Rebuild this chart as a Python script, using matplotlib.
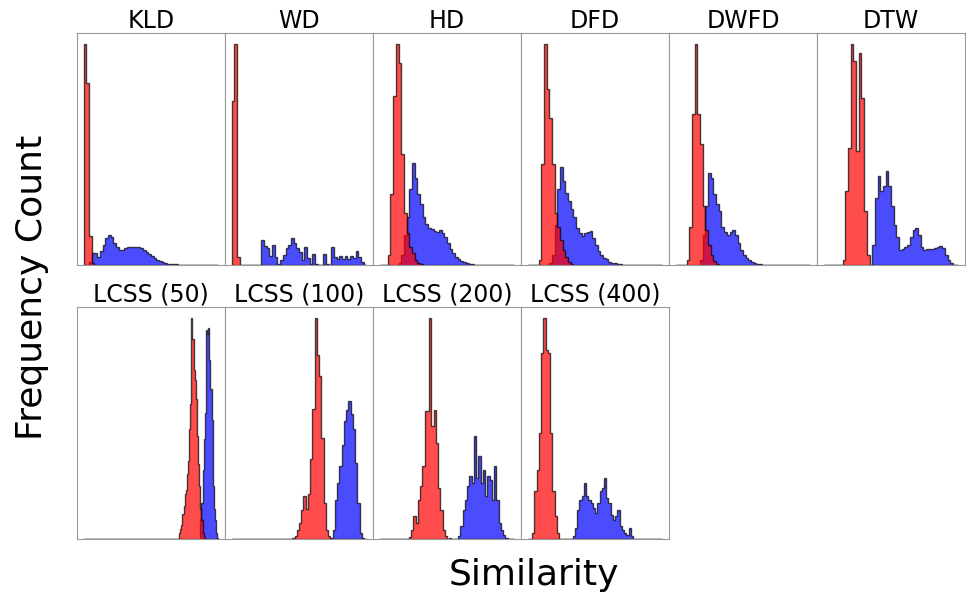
import numpy as np
import matplotlib.pyplot as plt

# ---------------- data: histogram counts per bin (bins span each panel's x range) -------------
titles = ["KLD", "WD", "HD", "DFD", "DWFD", "DTW",
          "LCSS (50)", "LCSS (100)", "LCSS (200)", "LCSS (400)"]

kld_red = [222, 183, 29, 2] + [0] * 46
kld_blue = [0, 0, 3, 12, 12, 8, 14, 20, 27, 30, 28, 22, 18, 15, 15, 17, 18, 18, 18, 18,
            18, 17, 15, 13, 11, 9, 7, 5, 4, 3, 2, 1, 1, 1, 1] + [0] * 15

wd_red = [165, 222, 8] + [0] * 47
wd_blue = [0] * 11 + [25, 19, 17, 9, 20, 8, 1, 5, 10, 17, 20, 27, 22, 17, 13, 5, 18, 7, 1, 11,
                      1, 0, 0, 11, 1, 0, 18, 8, 6, 9, 6, 9, 6, 9, 7, 14, 8, 3, 0]

hd_red = [0, 0, 0, 10, 72, 170, 222, 203, 112, 52, 32, 18, 12, 5, 2, 1] + [0] * 34
hd_blue = [0, 0, 0, 0, 0, 0, 0, 2, 10, 30, 48, 77, 103, 88, 72, 62, 48, 41, 37, 36,
           34, 33, 35, 32, 28, 22, 16, 12, 8, 6, 4, 3, 2, 1, 1] + [0] * 15

dfd_red = [0, 0, 0, 0, 5, 102, 222, 177, 148, 102, 52, 38, 25, 15, 8, 3, 1] + [0] * 33
dfd_blue = [0, 0, 0, 0, 0, 0, 0, 0, 2, 10, 40, 77, 99, 85, 73, 65, 57, 48, 37, 32,
            29, 32, 33, 34, 27, 20, 14, 10, 7, 6, 3, 2, 2, 1, 1] + [0] * 15

dwfd_red = [0, 0, 0, 0, 5, 38, 152, 222, 152, 122, 60, 35, 20, 10, 4, 1] + [0] * 34
dwfd_blue = [0, 0, 0, 0, 0, 0, 0, 0, 0, 5, 30, 60, 93, 88, 72, 62, 55, 38, 33, 30,
             33, 35, 30, 22, 15, 10, 7, 5, 3, 2, 1, 1] + [0] * 18

dtw_red = [0, 0, 0, 0, 0, 0, 0, 5, 75, 118, 222, 205, 115, 213, 168, 55, 10] + [0] * 33
dtw_blue = [0] * 18 + [20, 68, 90, 75, 80, 95, 80, 60, 40, 28, 15, 16, 18, 20, 28, 35,
                       37, 30, 18, 15, 16, 16, 16, 17, 18, 19, 17, 10, 5, 2, 0, 0]

lcss50_red = [0] * 85 + [6, 10, 14, 25, 33, 45, 49, 65, 78, 110, 135, 221, 200, 169, 159,
                         140, 103, 75, 53, 30, 19, 6, 2] + [0] * 12
lcss50_blue = [0] * 104 + [20, 36, 69, 100, 126, 209, 205, 211, 179, 150, 119, 53, 30,
                           19, 6, 1]

lcss100_red = [0] * 27 + [1, 3, 9, 16, 29, 43, 30, 45, 80, 130, 221, 184, 163, 101, 36,
                          9, 3] + [0] * 16
lcss100_blue = [0] * 44 + [1, 9, 39, 56, 73, 94, 118, 129, 138, 125, 110, 76, 36, 6, 1, 0]

lcss200_red = [0] * 13 + [2, 9, 23, 16, 39, 53, 73, 128, 128, 221, 113, 129, 96, 51, 29,
                          9, 3, 0, 1] + [0] * 28
lcss200_blue = [0] * 35 + [3, 13, 29, 39, 53, 63, 56, 103, 61, 83, 56, 69, 43, 63, 59, 39,
                           73, 39, 16, 9, 4, 1, 0, 0, 0]

lcss400_red = [0] * 2 + [6, 48, 69, 106, 186, 221, 189, 186, 106, 48, 23, 6] + [0] * 46
lcss400_blue = [0] * 20 + [3, 11, 29, 39, 43, 56, 43, 39, 36, 31, 26, 36, 48, 51, 61, 41,
                           36, 24, 19, 23, 29, 13, 9, 6, 4, 11, 3] + [0] * 13

red_sets = [kld_red, wd_red, hd_red, dfd_red, dwfd_red, dtw_red,
            lcss50_red, lcss100_red, lcss200_red, lcss400_red]
blue_sets = [kld_blue, wd_blue, hd_blue, dfd_blue, dwfd_blue, dtw_blue,
             lcss50_blue, lcss100_blue, lcss200_blue, lcss400_blue]

# ---------------- figure -------------
fig = plt.figure(figsize=(9.66, 5.94), dpi=100)
gs = fig.add_gridspec(2, 6, left=0.0797, right=0.999, top=0.944, bottom=0.0926,
                      wspace=0, hspace=0.18)

for i in range(12):
    ax = fig.add_subplot(gs[i // 6, i % 6])
    if i >= len(titles):
        ax.axis("off")
        continue
    red = np.array(red_sets[i], dtype=float)
    blue = np.array(blue_sets[i], dtype=float)
    edges = np.linspace(0, 1, len(red) + 1)
    ax.stairs(blue, edges, fill=True, facecolor="blue", edgecolor="black",
              linewidth=1.0, alpha=0.7)
    ax.stairs(red, edges, fill=True, facecolor="red", edgecolor="black",
              linewidth=1.0, alpha=0.7)
    ax.set_xticks([])
    ax.set_yticks([])
    for sp in ax.spines.values():
        sp.set_color("0.6")
        sp.set_linewidth(0.8)
    ax.set_title(titles[i], fontsize=17, pad=4)

fig.text(0.553, 0.032, "Similarity", fontsize=26, ha="center", va="center")
fig.text(0.033, 0.517, "Frequency Count", fontsize=26, ha="center", va="center",
         rotation=90)

fig.savefig("out.png", dpi=100)
